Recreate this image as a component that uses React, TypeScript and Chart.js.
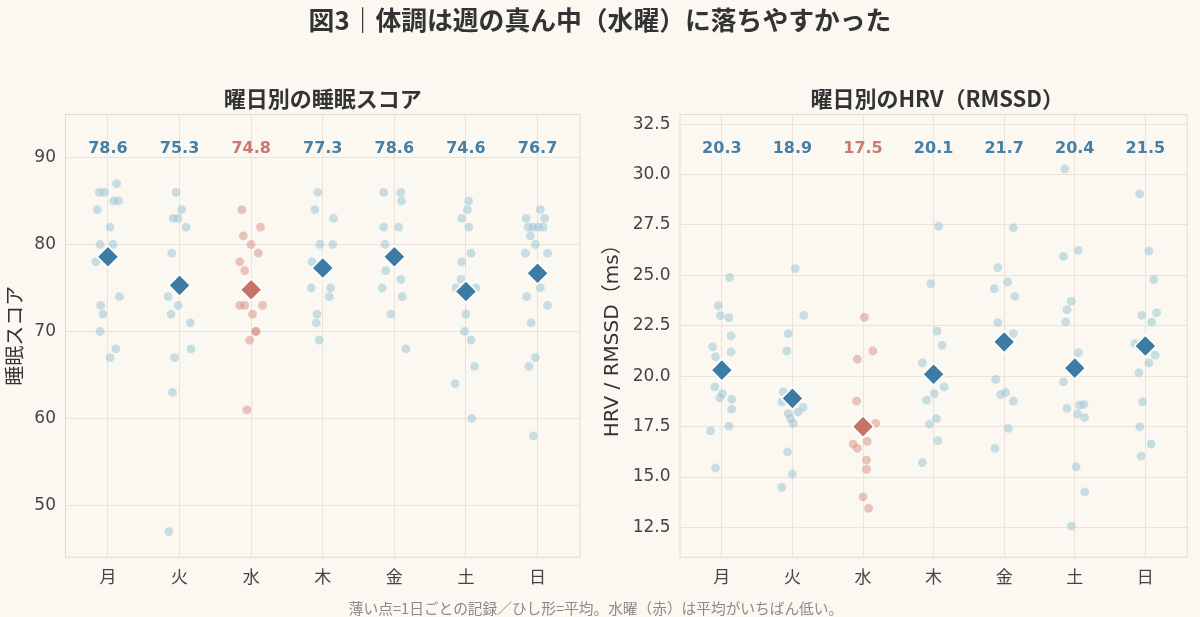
import React, { useEffect, useRef } from "react";
import { Chart, registerables } from "chart.js";

Chart.register(...registerables);

// ---------- data ----------
const days = ["月", "火", "水", "木", "金", "土", "日"];
const highlightDay = 2; // 水

const sleepMeans = [78.6, 75.3, 74.8, 77.3, 78.6, 74.6, 76.7];
const hrvMeans = [20.3, 18.9, 17.5, 20.1, 21.7, 20.4, 21.5];

const sleepTicks = [50, 60, 70, 80, 90];
const hrvTicks = [12.5, 15, 17.5, 20, 22.5, 25, 27.5, 30, 32.5];

// daily records per weekday (Mon..Sun)
const sleepValues: number[][] = [
  [87, 86, 86, 85, 85, 84, 82, 80, 80, 78, 74, 73, 72, 70, 68, 67],
  [86, 84, 83, 83, 82, 79, 74, 73, 72, 71, 68, 67, 63, 47],
  [84, 82, 81, 80, 79, 78, 77, 73, 73, 73, 72, 70, 70, 69, 61],
  [86, 84, 83, 80, 80, 78, 75, 75, 74, 72, 71, 69],
  [86, 86, 85, 82, 82, 80, 77, 76, 75, 74, 72, 68],
  [85, 84, 83, 82, 79, 78, 76, 75, 75, 72, 70, 69, 66, 64, 60],
  [84, 83, 83, 82, 82, 82, 82, 81, 80, 79, 79, 75, 74, 73, 71, 67, 66, 58],
];
// horizontal jitter of each record (in weekday units)
const sleepJitter: number[][] = [
  [0.12, -0.12, -0.05, 0.08, 0.15, -0.15, 0.03, -0.11, 0.07, -0.17, 0.16, -0.1, -0.07, -0.11, 0.11, 0.03],
  [-0.05, 0.03, -0.09, -0.02, 0.09, -0.11, -0.16, -0.02, -0.12, 0.15, 0.16, -0.07, -0.1, -0.15],
  [-0.13, 0.13, -0.11, 0.0, 0.1, -0.16, -0.09, -0.16, -0.09, 0.16, 0.02, 0.06, 0.07, -0.02, -0.06],
  [-0.07, -0.11, 0.15, -0.04, 0.14, -0.15, -0.16, 0.11, 0.09, -0.08, -0.09, -0.05],
  [-0.15, 0.09, 0.1, -0.15, 0.06, -0.13, -0.12, 0.09, -0.17, 0.11, -0.05, 0.16],
  [0.04, 0.02, -0.06, 0.04, 0.07, -0.06, -0.07, -0.14, 0.14, 0.0, -0.02, 0.07, 0.12, -0.15, 0.08],
  [0.04, -0.16, 0.1, -0.13, -0.06, 0.01, 0.08, -0.1, -0.03, -0.17, 0.14, 0.04, -0.15, 0.14, -0.09, -0.03, -0.12, -0.06],
];

const hrvValues: number[][] = [
  [24.9, 23.5, 23.0, 22.9, 22.0, 21.45, 21.2, 20.96, 19.47, 19.14, 18.93, 18.86, 18.37, 17.52, 17.29, 15.45],
  [25.33, 23.02, 22.11, 21.25, 19.22, 18.73, 18.45, 18.23, 18.15, 17.9, 17.66, 16.25, 15.15, 14.49],
  [22.92, 21.25, 20.84, 18.76, 17.66, 16.77, 16.63, 16.42, 15.84, 15.38, 14.02, 13.45],
  [27.43, 24.59, 22.23, 21.53, 20.66, 19.47, 19.14, 18.81, 17.9, 17.62, 16.8, 15.71],
  [27.36, 25.38, 24.67, 24.34, 23.96, 22.66, 22.11, 19.84, 19.09, 19.19, 18.76, 17.41, 16.42],
  [30.28, 26.24, 25.94, 23.71, 23.3, 22.69, 21.17, 19.72, 18.6, 18.56, 18.4, 18.12, 17.95, 15.51, 14.26, 12.57],
  [29.04, 26.2, 24.79, 23.15, 23.02, 22.69, 21.62, 21.04, 20.66, 20.17, 18.73, 17.49, 16.63, 16.04],
];
const hrvJitter: number[][] = [
  [0.11, -0.05, -0.02, 0.1, 0.13, -0.13, 0.13, -0.09, -0.1, 0.01, -0.03, 0.14, 0.14, 0.1, -0.16, -0.09],
  [0.04, 0.16, -0.06, -0.08, -0.13, -0.15, 0.15, 0.08, -0.06, -0.03, 0.01, -0.07, 0.0, -0.15],
  [0.02, 0.14, -0.08, -0.09, 0.18, 0.06, -0.14, -0.08, 0.05, 0.05, 0.0, 0.08],
  [0.07, -0.04, 0.05, 0.12, -0.16, 0.15, 0.01, -0.1, 0.04, -0.06, 0.06, -0.16],
  [0.13, -0.09, 0.05, -0.14, 0.15, -0.09, 0.13, -0.12, -0.05, 0.02, 0.13, 0.06, -0.13],
  [-0.14, 0.05, -0.16, -0.05, -0.11, -0.13, 0.05, -0.16, 0.13, 0.07, -0.11, 0.04, 0.14, 0.02, 0.14, -0.05],
  [-0.08, 0.05, 0.12, 0.16, -0.05, 0.09, -0.15, 0.14, 0.05, -0.09, -0.04, -0.08, 0.08, -0.06],
];

// ---------- styles ----------
const BG = "#fbf8f1";
const BLUE = "#3b7ba4";
const RED = "#c8736a";
const BLUE_LABEL = "#467fa6";
const RED_LABEL = "#c97b72";
const BLUE_LIGHT = "rgba(150,193,212,0.5)";
const RED_LIGHT = "rgba(215,140,130,0.5)";
const GRID = "#ece2da";
const FRAME = "#e4d9cf";
const NUM_FONT = "'DejaVu Sans', 'Noto Sans CJK JP', sans-serif";
const JP_FONT = "'Noto Sans CJK JP', 'DejaVu Sans', sans-serif";

type PanelProps = {
  values: number[][];
  jitter: number[][];
  means: number[];
  ticks: number[];
  yMin: number;
  yMax: number;
  decimals: number;
  yTitle: string;
  yWidth: number;
  padRight: number;
  titlePad: number;
};

function Panel(p: PanelProps) {
  const ref = useRef<HTMLCanvasElement>(null);
  useEffect(() => {
    if (!ref.current) return;
    const points = p.values.flatMap((arr, d) =>
      arr.map((v, k) => ({ x: d + p.jitter[d][k], y: v }))
    );
    const pointColors = p.values.flatMap((arr, d) =>
      arr.map(() => (d === highlightDay ? RED_LIGHT : BLUE_LIGHT))
    );
    const meanPts = p.means.map((m, d) => ({ x: d, y: m }));

    const framePlugin = {
      id: "frame",
      beforeDatasetsDraw(chart: any) {
        const { ctx, chartArea } = chart;
        ctx.save();
        ctx.strokeStyle = FRAME;
        ctx.lineWidth = 1;
        ctx.strokeRect(chartArea.left + 0.5, chartArea.top + 0.5, chartArea.right - chartArea.left - 1, chartArea.bottom - chartArea.top - 1);
        ctx.restore();
      },
    };
    const meanLabelPlugin = {
      id: "meanLabels",
      afterDatasetsDraw(chart: any) {
        const { ctx, chartArea, scales } = chart;
        ctx.save();
        ctx.font = `bold 16px ${NUM_FONT}`;
        ctx.textAlign = "center";
        ctx.textBaseline = "middle";
        p.means.forEach((m, d) => {
          ctx.fillStyle = d === highlightDay ? RED_LABEL : BLUE_LABEL;
          ctx.fillText(m.toFixed(1), scales.x.getPixelForValue(d), chartArea.top + 35);
        });
        ctx.restore();
      },
    };

    const chart = new Chart(ref.current, {
      type: "scatter",
      data: {
        datasets: [
          {
            data: meanPts,
            pointStyle: "rectRot",
            pointRadius: 10.8,
            pointBackgroundColor: p.means.map((_, d) => (d === highlightDay ? RED : BLUE)),
            pointBorderColor: "#ffffff",
            pointBorderWidth: 1.5,
            order: 0,
          } as any,
          {
            data: points,
            pointRadius: 4.4,
            pointBackgroundColor: pointColors,
            pointBorderWidth: 0,
            order: 1,
          } as any,
        ],
      },
      options: {
        animation: false,
        responsive: false,
        events: [],
        layout: { padding: { left: 0, right: p.padRight, top: 114, bottom: 19.3 } },
        plugins: { legend: { display: false }, tooltip: { enabled: false }, title: { display: false } },
        scales: {
          x: {
            type: "linear",
            min: -0.6,
            max: 6.6,
            afterBuildTicks: (scale: any) => {
              scale.ticks = days.map((_, i) => ({ value: i }));
            },
            afterFit: (scale: any) => {
              scale.height = 40;
            },
            ticks: {
              callback: (v: any) => days[Math.round(Number(v))] ?? "",
              color: "#444444",
              font: { family: JP_FONT, size: 17 },
              padding: 9,
              maxRotation: 0,
              autoSkip: false,
            },
            grid: { color: GRID, lineWidth: 1, drawTicks: false },
            border: { display: false },
          },
          y: {
            type: "linear",
            min: p.yMin,
            max: p.yMax,
            afterBuildTicks: (scale: any) => {
              scale.ticks = p.ticks.map((v) => ({ value: v }));
            },
            afterFit: (scale: any) => {
              scale.width = p.yWidth;
            },
            ticks: {
              callback: (v: any) => Number(v).toFixed(p.decimals),
              color: "#444444",
              font: { family: NUM_FONT, size: 17 },
              padding: 9,
              autoSkip: false,
            },
            grid: { color: GRID, lineWidth: 1, drawTicks: false },
            border: { display: false },
            title: {
              display: true,
              text: p.yTitle,
              color: "#333333",
              font: { family: NUM_FONT, size: 20 },
              padding: { top: p.titlePad, bottom: 0 },
            },
          },
        },
      },
      plugins: [framePlugin, meanLabelPlugin],
    } as any);
    return () => chart.destroy();
  }, []);
  return <canvas ref={ref} width={600} height={617} style={{ display: "block" }} />;
}

export default function App() {
  useEffect(() => {
    document.body.style.margin = "0";
    document.body.style.background = BG;
  }, []);
  const abs: React.CSSProperties = { position: "absolute" };
  return (
    <div style={{ position: "fixed", left: 0, top: 0, width: 1200, height: 617, background: BG, overflow: "hidden" }}>
      <div style={{ ...abs, left: 0, top: 0 }}>
        <Panel
          values={sleepValues}
          jitter={sleepJitter}
          means={sleepMeans}
          ticks={sleepTicks}
          yMin={44}
          yMax={95}
          decimals={0}
          yTitle="睡眠スコア"
          yWidth={65}
          padRight={19.5}
          titlePad={5}
        />
      </div>
      <div style={{ ...abs, left: 600, top: 0 }}>
        <Panel
          values={hrvValues}
          jitter={hrvJitter}
          means={hrvMeans}
          ticks={hrvTicks}
          yMin={11}
          yMax={33}
          decimals={1}
          yTitle="HRV / RMSSD（ms）"
          yWidth={79.5}
          padRight={5}
          titlePad={1}
        />
      </div>
      <div
        style={{
          ...abs, left: 0, top: -1, width: 1200, lineHeight: "40px", textAlign: "center",
          fontFamily: JP_FONT, fontWeight: 700, fontSize: 25.8, color: "#333333",
        }}
      >
        図3｜体調は週の真ん中（水曜）に落ちやすかった
      </div>
      <div
        style={{
          ...abs, left: 65, top: 82, width: 515.5, lineHeight: "30px", textAlign: "center",
          fontFamily: JP_FONT, fontWeight: 700, fontSize: 22, color: "#333333",
        }}
      >
        曜日別の睡眠スコア
      </div>
      <div
        style={{
          ...abs, left: 679.5, top: 82, width: 515.5, lineHeight: "30px", textAlign: "center",
          fontFamily: JP_FONT, fontWeight: 700, fontSize: 22, color: "#333333",
        }}
      >
        曜日別のHRV（RMSSD）
      </div>
      <div
        style={{
          ...abs, left: 0, top: 598, width: 1192, lineHeight: "20px", textAlign: "center",
          fontFamily: JP_FONT, fontSize: 14.7, color: "#8a8a8a",
        }}
      >
        薄い点=1日ごとの記録／ひし形=平均。水曜（赤）は平均がいちばん低い。
      </div>
    </div>
  );
}
